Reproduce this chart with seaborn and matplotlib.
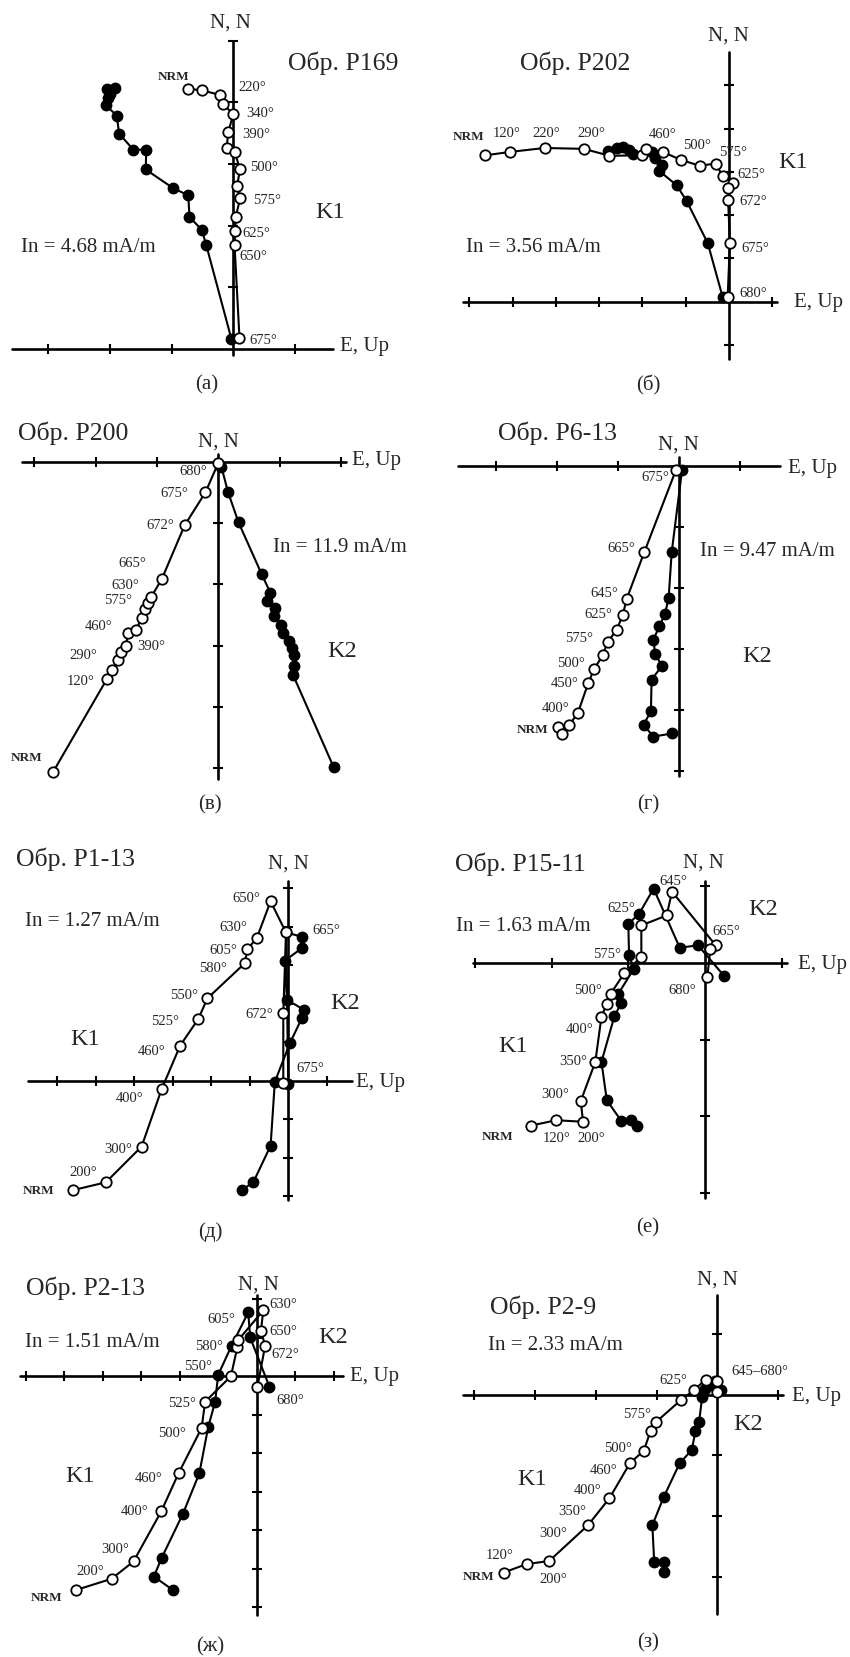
import matplotlib
matplotlib.use("Agg")
import matplotlib.pyplot as plt
import seaborn as sns

sns.set_theme(style="white")
plt.rcParams["font.family"] = ["Liberation Serif", "DejaVu Serif"]

W, H = 850, 1658

# ---------------- DATA (units = axis tick divisions) ----------------
# Panel (а) P169
A_OPEN_E = [-0.73, -0.50, -0.22, -0.17, 0.0, -0.08, -0.11, 0.02, 0.11, 0.06, 0.11, 0.04, 0.03, 0.02, 0.10]
A_OPEN_UP = [4.22, 4.19, 4.12, 3.97, 3.81, 3.52, 3.25, 3.20, 2.91, 2.64, 2.44, 2.14, 1.91, 1.69, 0.18]
A_FILL_E = [-1.92, -2.05, -2.0, -2.03, -2.06, -1.89, -1.85, -1.62, -1.41, -1.42, -0.98, -0.73, -0.71, -0.51, -0.44, -0.03]
A_FILL_N = [4.23, 4.21, 4.14, 4.06, 3.95, 3.78, 3.49, 3.23, 3.23, 2.91, 2.61, 2.49, 2.14, 1.93, 1.69, 0.16]
A_LABELS = ["NRM", "220°", "340°", "390°", "500°", "575°", "625°", "650°", "675°"]

# Panel (б) P202
B_OPEN_E = [-5.63, -5.05, -4.26, -3.35, -2.76, -2.02, -1.92, -1.53, -1.12, -0.68, -0.31, -0.15, 0.10, -0.03, -0.02, 0.02, -0.03]
B_OPEN_UP = [3.38, 3.46, 3.55, 3.53, 3.37, 3.38, 3.52, 3.46, 3.28, 3.14, 3.19, 2.91, 2.75, 2.62, 2.35, 1.35, 0.12]
B_FILL_E = [-2.80, -2.59, -2.44, -2.31, -2.21, -1.77, -1.72, -1.54, -1.61, -1.21, -0.98, -0.49, -0.15]
B_FILL_N = [3.48, 3.54, 3.58, 3.51, 3.41, 3.46, 3.31, 3.15, 3.02, 2.69, 2.33, 1.35, 0.12]
B_LABELS = ["NRM", "120°", "220°", "290°", "460°", "500°", "575°", "625°", "672°", "675°", "680°"]

# Panel (в) P200
C_OPEN_E = [-2.70, -1.82, -1.73, -1.64, -1.59, -1.51, -1.47, -1.34, -1.25, -1.20, -1.14, -1.09, -0.92, -0.55, -0.21, 0.0]
C_OPEN_UP = [-5.07, -3.55, -3.39, -3.23, -3.11, -3.0, -2.80, -2.74, -2.55, -2.41, -2.31, -2.20, -1.91, -1.04, -0.50, -0.02]
C_FILL_E = [1.88, 1.22, 1.23, 1.24, 1.21, 1.16, 1.06, 1.03, 0.91, 0.93, 0.79, 0.85, 0.71, 0.33, 0.16, 0.05]
C_FILL_N = [-4.98, -3.48, -3.34, -3.16, -3.04, -2.92, -2.80, -2.67, -2.52, -2.39, -2.27, -2.14, -1.84, -0.99, -0.50, -0.08]
C_LABELS = ["680°", "675°", "672°", "665°", "630°", "575°", "460°", "390°", "290°", "120°", "NRM"]

# Panel (г) P6-13
D_OPEN_E = [-1.98, -1.92, -1.80, -1.66, -1.49, -1.39, -1.25, -1.17, -1.02, -0.92, -0.86, -0.57, -0.05]
D_OPEN_UP = [-4.29, -4.40, -4.25, -4.06, -3.57, -3.33, -3.11, -2.89, -2.69, -2.44, -2.19, -1.42, -0.07]
D_FILL_E = [-0.11, -0.42, -0.58, -0.46, -0.45, -0.28, -0.39, -0.42, -0.32, -0.23, -0.17, -0.12, 0.05]
D_FILL_N = [-4.39, -4.44, -4.25, -4.02, -3.51, -3.28, -3.09, -2.85, -2.63, -2.43, -2.17, -1.42, -0.07]
D_LABELS = ["675°", "665°", "645°", "625°", "575°", "500°", "450°", "400°", "NRM"]

# Panel (д) P1-13
E_OPEN_E = [-5.58, -4.74, -3.81, -3.29, -2.81, -2.34, -2.10, -1.13, -1.06, -0.82, -0.46, -0.06, -0.13, -0.13]
E_OPEN_UP = [-2.84, -2.64, -1.71, -0.22, 0.91, 1.60, 2.14, 3.05, 3.42, 3.70, 4.66, 3.85, 1.75, -0.06]
E_FILL_E = [-1.21, -0.91, -0.46, -0.35, 0.04, 0.35, 0.41, -0.03, -0.09, 0.35, 0.35, -0.06, 0.0]
E_FILL_N = [-2.84, -2.64, -1.69, -0.03, 0.97, 1.62, 1.84, 2.10, 3.12, 3.44, 3.74, 3.85, -0.09]
E_LABELS = ["NRM", "200°", "300°", "400°", "460°", "525°", "550°", "580°", "605°", "630°", "650°", "665°", "672°", "675°"]

# Panel (е) P15-11
F_OPEN_E = [-2.27, -1.94, -1.59, -1.62, -1.43, -1.35, -1.28, -1.23, -1.05, -0.83, -0.83, -0.50, -0.43, 0.14, 0.07, 0.03]
F_OPEN_UP = [-2.12, -2.05, -2.07, -1.80, -1.29, -0.70, -0.53, -0.40, -0.13, 0.08, 0.49, 0.62, 0.93, 0.23, 0.18, -0.18]
F_FILL_E = [-0.89, -0.96, -1.09, -1.28, -1.35, -1.18, -1.09, -1.13, -0.93, -0.99, -1.0, -0.86, -0.67, -0.33, -0.09, 0.25]
F_FILL_N = [-2.13, -2.05, -2.06, -1.79, -1.29, -0.69, -0.52, -0.40, -0.08, 0.11, 0.51, 0.64, 0.97, 0.20, 0.23, -0.17]
F_LABELS = ["NRM", "120°", "200°", "300°", "350°", "400°", "500°", "575°", "625°", "645°", "665°", "680°"]

# Panel (ж) P2-13
G_OPEN_E = [-4.69, -3.77, -3.20, -2.48, -2.03, -1.43, -1.34, -0.67, -0.50, -0.48, 0.17, 0.11, 0.22, 0.02]
G_OPEN_UP = [-5.55, -5.26, -4.81, -3.51, -2.52, -1.34, -0.66, 0.0, 0.77, 0.94, 1.71, 1.17, 0.80, -0.27]
G_FILL_E = [-2.18, -2.67, -2.47, -1.92, -1.49, -1.26, -1.08, -1.0, -0.65, -0.22, -0.17, 0.33]
G_FILL_N = [-5.55, -5.20, -4.72, -3.58, -2.52, -1.32, -0.66, 0.04, 0.80, 1.66, 1.01, -0.27]
G_LABELS = ["NRM", "200°", "300°", "400°", "460°", "500°", "525°", "550°", "580°", "605°", "630°", "650°", "672°", "680°"]

# Panel (з) P2-9
H_OPEN_E = [-3.52, -3.14, -2.77, -2.13, -1.78, -1.44, -1.21, -1.10, -1.01, -0.59, -0.38, -0.19, 0.0, 0.0]
H_OPEN_UP = [-2.93, -2.79, -2.74, -2.15, -1.71, -1.13, -0.92, -0.60, -0.45, -0.08, 0.08, 0.25, 0.22, 0.04]
H_FILL_E = [-0.87, -0.88, -1.04, -1.07, -0.88, -0.62, -0.42, -0.36, -0.30, -0.25, -0.20, -0.12, -0.04, 0.06]
H_FILL_N = [-2.92, -2.75, -2.75, -2.15, -1.68, -1.13, -0.91, -0.60, -0.45, -0.04, 0.09, 0.16, 0.23, 0.07]
H_LABELS = ["NRM", "120°", "200°", "300°", "350°", "400°", "460°", "500°", "575°", "625°", "645–680°"]

TITLES = ["Обр. P169", "Обр. P202", "Обр. P200", "Обр. P6-13", "Обр. P1-13", "Обр. P15-11", "Обр. P2-13", "Обр. P2-9"]
INTENSITY = ["In = 4.68 mA/m", "In = 3.56 mA/m", "In = 11.9 mA/m", "In = 9.47 mA/m",
             "In = 1.27 mA/m", "In = 1.63 mA/m", "In = 1.51 mA/m", "In = 2.33 mA/m"]
CAPTIONS = ["(а)", "(б)", "(в)", "(г)", "(д)", "(е)", "(ж)", "(з)"]

# ---------------- LAYOUT ----------------
LAYOUT = [
    dict(o=(233.3, 350.0), u=61.7, box=(0, 0, 425, 378), hr=(-3.58, 1.62), vr=(-0.1, 5.0),
         ht=[-3, -2, -1, 1], vt=[1, 2, 3, 4, 5]),
    dict(o=(729.0, 302.7), u=43.3, box=(425, 0, 850, 378), hr=(-6.15, 1.1), vr=(-1.32, 5.77),
         ht=[-6, -5, -4, -3, -2, -1, 1], vt=[-1, 1, 2, 3, 4, 5]),
    dict(o=(218.3, 462.7), u=61.3, box=(0, 378, 425, 790), hr=(-3.21, 2.09), vr=(-5.17, 0.12),
         ht=[-3, -2, -1, 1, 2], vt=[-1, -2, -3, -4, -5]),
    dict(o=(679.0, 466.7), u=61.0, box=(425, 378, 850, 790), hr=(-3.62, 1.66), vr=(-5.09, 0.15),
         ht=[-3, -2, -1, 1], vt=[-1, -2, -3, -4, -5]),
    dict(o=(288.3, 1081.7), u=38.5, box=(0, 790, 425, 1228), hr=(-6.75, 1.65), vr=(-3.1, 5.2),
         ht=[-6, -5, -4, -3, -2, -1, 1], vt=[-3, -2, -1, 1, 2, 3, 4, 5]),
    dict(o=(705.0, 964.0), u=76.7, box=(425, 790, 850, 1228), hr=(-3.02, 1.07), vr=(-3.07, 1.07),
         ht=[-3, -2, -1, 1], vt=[-3, -2, -1, 1]),
    dict(o=(256.7, 1377.3), u=38.5, box=(0, 1228, 425, 1658), hr=(-6.15, 2.25), vr=(-6.2, 2.1),
         ht=[-6, -5, -4, -3, -2, -1, 1, 2], vt=[-6, -5, -4, -3, -2, -1, 1, 2]),
    dict(o=(717.3, 1395.7), u=60.7, box=(425, 1228, 850, 1658), hr=(-4.19, 1.09), vr=(-3.62, 1.65),
         ht=[-4, -3, -2, -1, 1], vt=[-3, -2, -1, 1]),
]

LABEL_POS = [
    [(-0.97, 4.42), (0.30, 4.26), (0.43, 3.84), (0.38, 3.49), (0.49, 2.95), (0.54, 2.43), (0.38, 1.89), (0.32, 1.51), (0.49, 0.16)],
    [(-6.02, 3.83), (-5.13, 3.90), (-4.23, 3.90), (-3.18, 3.91), (-1.54, 3.89), (-0.75, 3.64), (0.10, 3.48), (0.52, 2.95), (0.56, 2.33), (0.60, 1.25), (0.56, 0.22)],
    [(-0.41, -0.15), (-0.71, -0.50), (-0.95, -1.03), (-1.40, -1.65), (-1.51, -2.0), (-1.63, -2.25), (-1.96, -2.67), (-1.09, -3.0), (-2.20, -3.14), (-2.25, -3.57), (-3.13, -4.82)],
    [(-0.39, -0.17), (-0.94, -1.34), (-1.22, -2.08), (-1.32, -2.42), (-1.64, -2.81), (-1.77, -3.23), (-1.88, -3.55), (-2.02, -3.96), (-2.40, -4.32)],
    [(-6.49, -2.84), (-5.32, -2.35), (-4.42, -1.77), (-4.11, -0.43), (-3.55, 0.78), (-3.20, 1.56), (-2.71, 2.25), (-1.95, 2.94), (-1.69, 3.42), (-1.43, 4.01), (-1.08, 4.76), (1.0, 3.92), (-0.75, 1.75), (0.56, 0.35)],
    [(-2.70, -2.25), (-1.93, -2.27), (-1.48, -2.27), (-1.95, -1.70), (-1.72, -1.27), (-1.63, -0.85), (-1.52, -0.34), (-1.28, 0.13), (-1.09, 0.73), (-0.41, 1.07), (0.28, 0.43), (-0.30, -0.34)],
    [(-5.45, -5.74), (-4.33, -5.05), (-3.68, -4.48), (-3.16, -3.49), (-2.81, -2.62), (-2.21, -1.45), (-1.95, -0.68), (-1.52, 0.28), (-1.23, 0.80), (-0.91, 1.49), (0.69, 1.90), (0.69, 1.19), (0.74, 0.60), (0.87, -0.61)],
    [(-3.94, -2.98), (-3.58, -2.64), (-2.70, -3.02), (-2.71, -2.27), (-2.39, -1.90), (-2.13, -1.57), (-1.88, -1.23), (-1.63, -0.87), (-1.33, -0.31), (-0.73, 0.25), (0.70, 0.40)],
]

TITLE_PX = [(343, 63), (575, 63), (73, 433), (558, 433), (75, 859), (520, 864), (85, 1288), (543, 1307)]
INT_PX = [(88, 248), (533, 247), (340, 547), (767, 552), (92, 922), (523, 927), (92, 1343), (555, 1345)]
NN_PX = [(230, 23), (728, 36), (218, 442), (678, 445), (288, 864), (703, 863), (258, 1285), (717, 1280)]
EU_PX = [(365, 347), (818, 302), (377, 460), (812, 468), (380, 1082), (822, 965), (375, 1377), (817, 1396)]
CAP_PX = [(207, 385), (648, 385), (210, 805), (648, 805), (210, 1232), (648, 1228), (210, 1647), (648, 1643)]
COMP_TXT = [[("K1", (330, 212))], [("K1", (793, 163))], [("K2", (342, 652))], [("K2", (757, 657))],
            [("K1", (85, 1040)), ("K2", (345, 1004))], [("K2", (763, 910)), ("K1", (513, 1047))],
            [("K2", (333, 1338)), ("K1", (80, 1477))], [("K1", (532, 1480)), ("K2", (748, 1425))]]

SERIES = [
    (A_OPEN_E, A_OPEN_UP, A_FILL_E, A_FILL_N, A_LABELS),
    (B_OPEN_E, B_OPEN_UP, B_FILL_E, B_FILL_N, B_LABELS),
    (C_OPEN_E, C_OPEN_UP, C_FILL_E, C_FILL_N, C_LABELS),
    (D_OPEN_E, D_OPEN_UP, D_FILL_E, D_FILL_N, D_LABELS),
    (E_OPEN_E, E_OPEN_UP, E_FILL_E, E_FILL_N, E_LABELS),
    (F_OPEN_E, F_OPEN_UP, F_FILL_E, F_FILL_N, F_LABELS),
    (G_OPEN_E, G_OPEN_UP, G_FILL_E, G_FILL_N, G_LABELS),
    (H_OPEN_E, H_OPEN_UP, H_FILL_E, H_FILL_N, H_LABELS),
]

fig = plt.figure(figsize=(W / 100, H / 100), dpi=100)
fig.patch.set_facecolor("white")


def fx(p):
    return p[0] / W


def fy(p):
    return 1 - p[1] / H


for i, (lay, ser) in enumerate(zip(LAYOUT, SERIES)):
    ox, oy = lay["o"]
    u = lay["u"]
    x0, y0, x1, y1 = lay["box"]
    ax = fig.add_axes([x0 / W, 1 - y1 / H, (x1 - x0) / W, (y1 - y0) / H])
    ax.set_xlim((x0 - ox) / u, (x1 - ox) / u)
    ax.set_ylim((oy - y1) / u, (oy - y0) / u)
    ax.axis("off")

    ax.plot(lay["hr"], [0, 0], color="black", lw=1.9, zorder=1, clip_on=False)
    ax.plot([0, 0], lay["vr"], color="black", lw=1.9, zorder=1, clip_on=False)
    ax.plot(lay["ht"], [0] * len(lay["ht"]), ls="none", marker="|", ms=7, mew=1.5, color="black", clip_on=False)
    ax.plot([0] * len(lay["vt"]), lay["vt"], ls="none", marker="_", ms=7, mew=1.5, color="black", clip_on=False)

    oe, ou, fe, fn, labs = ser
    sns.lineplot(x=fe, y=fn, sort=False, estimator=None, color="black", lw=1.5, marker="o",
                 markersize=7.5, markerfacecolor="black", markeredgecolor="black", markeredgewidth=1.0,
                 legend=False, ax=ax, zorder=3, clip_on=False)
    sns.lineplot(x=oe, y=ou, sort=False, estimator=None, color="black", lw=1.5, marker="o",
                 markersize=7.5, markerfacecolor="white", markeredgecolor="black", markeredgewidth=1.3,
                 legend=False, ax=ax, zorder=4, clip_on=False)

    for txt, (lx, ly) in zip(labs, LABEL_POS[i]):
        if txt == "NRM":
            ax.text(lx, ly, txt, ha="center", va="center", fontsize=9.5, fontweight="bold", clip_on=False)
        else:
            ax.text(lx, ly, txt, ha="center", va="center", fontsize=10.5, clip_on=False)

    fig.text(fx(TITLE_PX[i]), fy(TITLE_PX[i]), TITLES[i], ha="center", va="center", fontsize=18.5)
    fig.text(fx(INT_PX[i]), fy(INT_PX[i]), INTENSITY[i], ha="center", va="center", fontsize=15)
    fig.text(fx(NN_PX[i]), fy(NN_PX[i]), "N, N", ha="center", va="center", fontsize=15)
    fig.text(fx(EU_PX[i]), fy(EU_PX[i]), "E, Up", ha="center", va="center", fontsize=15)
    fig.text(fx(CAP_PX[i]), fy(CAP_PX[i]), CAPTIONS[i], ha="center", va="center", fontsize=15)
    for txt, p in COMP_TXT[i]:
        fig.text(fx(p), fy(p), txt, ha="center", va="center", fontsize=17.5)

fig.savefig("out.png", dpi=100, facecolor="white")
